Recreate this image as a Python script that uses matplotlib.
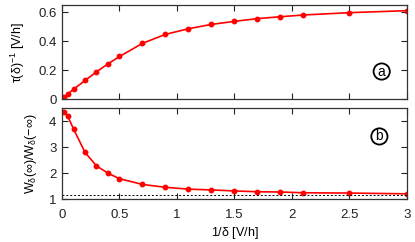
import matplotlib
matplotlib.use("Agg")
import matplotlib.pyplot as plt

plt.rcParams['font.family'] = ['Liberation Sans', 'DejaVu Sans']
plt.rcParams['mathtext.fontset'] = 'custom'
plt.rcParams['mathtext.rm'] = 'Liberation Sans'
plt.rcParams['mathtext.it'] = 'Liberation Sans'

x = [0.02, 0.05, 0.1, 0.2, 0.3, 0.4, 0.5, 0.7, 0.9, 1.1, 1.3, 1.5, 1.7, 1.9, 2.1, 2.5, 3.0]
tau_inv = [0.012, 0.035, 0.067, 0.128, 0.188, 0.243, 0.294, 0.385, 0.447, 0.486,
           0.516, 0.537, 0.556, 0.569, 0.581, 0.597, 0.611]
w_ratio = [4.34, 4.19, 3.70, 2.80, 2.28, 2.00, 1.79, 1.57, 1.46, 1.39,
           1.36, 1.32, 1.29, 1.28, 1.25, 1.24, 1.21]
w_limit = 1.17

xticks = [0, 0.5, 1, 1.5, 2, 2.5, 3]
xticklabels = ['0', '0.5', '1', '1.5', '2', '2.5', '3']
top_yticks = [0, 0.2, 0.4, 0.6]
top_yticklabels = ['0', '0.2', '0.4', '0.6']
bot_yticks = [1, 2, 3, 4]
bot_yticklabels = ['1', '2', '3', '4']

fs = 9.5
fig = plt.figure(figsize=(4.15, 2.42), dpi=100)
ax1 = fig.add_axes([0.1494, 0.5909, 0.8313, 0.3884])
ax2 = fig.add_axes([0.1494, 0.1764, 0.8313, 0.3773])

red = '#ff0000'
ax1.plot(x, tau_inv, color=red, lw=1.2, marker='o', ms=3.2)
ax2.plot(x, w_ratio, color=red, lw=1.2, marker='o', ms=3.2)
ax2.axhline(w_limit, color='black', lw=0.7, ls=(0, (2, 2)))

for ax in (ax1, ax2):
    ax.set_xlim(0, 3)
    ax.set_xticks(xticks)
    ax.tick_params(direction='in', top=True, right=True, length=4, width=0.8,
                   labelsize=fs, colors='#222222', pad=4)
    ax.tick_params(axis='x', pad=7)
    for s in ax.spines.values():
        s.set_linewidth(0.9)
        s.set_color('#333333')

ax1.set_ylim(0, 0.65)
ax1.set_yticks(top_yticks)
ax1.set_yticklabels(top_yticklabels)
ax1.set_xticklabels([])
ax1.set_ylabel(r'$\tau(\delta)^{-1}$ [V/h]', fontsize=fs - 0.5, labelpad=8)

ax2.set_ylim(1, 4.5)
ax2.set_yticks(bot_yticks)
ax2.set_yticklabels(bot_yticklabels)
ax2.set_xticklabels(xticklabels)
ax2.set_ylabel(r'$W_\delta(\infty)/W_\delta(-\infty)$', fontsize=fs - 0.5, labelpad=7)
ax2.set_xlabel(r'1/$\delta$ [V/h]', fontsize=fs - 0.5, labelpad=3)

circ = dict(boxstyle='circle,pad=0.08', fc='white', ec='black', lw=1.3)
ax1.text(2.78, 0.19, 'a', fontsize=fs + 0.5, ha='center', va='center', bbox=circ)
ax2.text(2.76, 3.41, 'b', fontsize=fs + 0.5, ha='center', va='center', bbox=circ)

fig.savefig('out.png', dpi=100)
